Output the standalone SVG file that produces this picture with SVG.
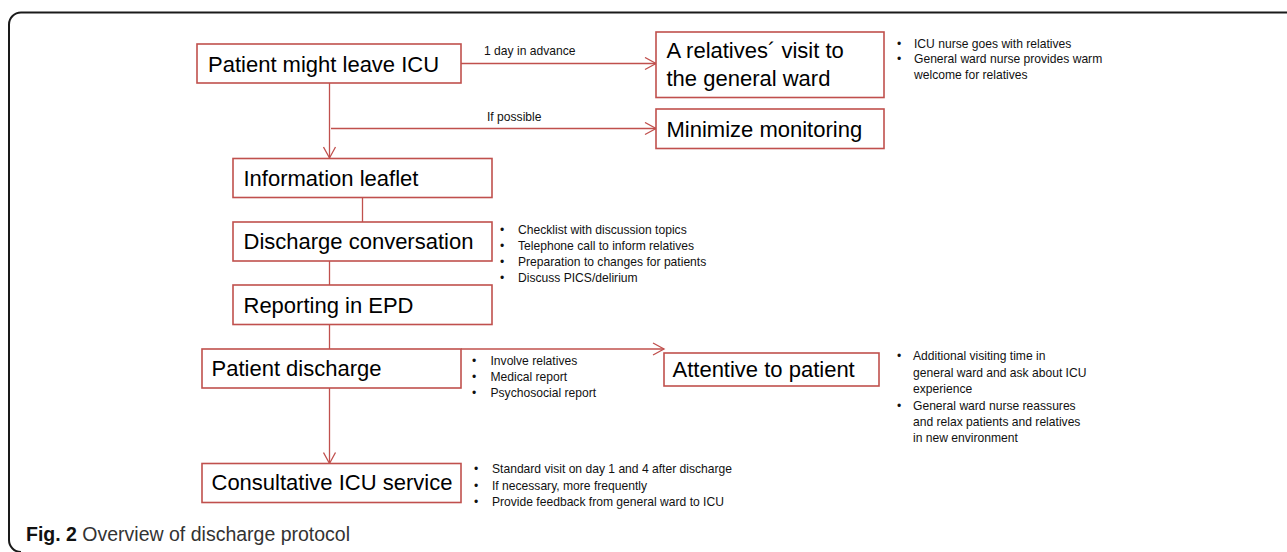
<svg xmlns="http://www.w3.org/2000/svg" width="1287" height="552" viewBox="0 0 1287 552">
<style>
.box{fill:#fff;stroke:#c0504d;stroke-width:1.6}
.lbl{font-family:"Liberation Sans",Arial,sans-serif;font-size:22px;fill:#000}
.sm{font-family:"Liberation Sans",Arial,sans-serif;font-size:12.1px;fill:#111}
.con{fill:none;stroke:#c0504d;stroke-width:1.3}
</style>
<defs>
<marker id="arr" markerUnits="userSpaceOnUse" markerWidth="14" markerHeight="14" viewBox="0 0 14 14" refX="12" refY="7" orient="auto">
<path d="M1,1 L12,7 L1,13" fill="none" stroke="#c0504d" stroke-width="1.3"/>
</marker>
</defs>
<path d="M1287,12.5 H21 A12,12 0 0 0 9,24.5 V540 A12,12 0 0 0 21,552" fill="none" stroke="#1a1a1a" stroke-width="2"/>
<g id="connectors">
<line class="con" x1="461" y1="63.5" x2="656" y2="63.5" marker-end="url(#arr)"/>
<line class="con" x1="329.5" y1="83" x2="329.5" y2="158" marker-end="url(#arr)"/>
<line class="con" x1="331" y1="128.5" x2="656" y2="128.5" marker-end="url(#arr)"/>
<line class="con" x1="362.5" y1="197" x2="362.5" y2="222"/>
<line class="con" x1="329.5" y1="261" x2="329.5" y2="285"/>
<line class="con" x1="329.5" y1="324.5" x2="329.5" y2="349"/>
<line class="con" x1="461" y1="349" x2="664" y2="349" marker-end="url(#arr)"/>
<line class="con" x1="329.5" y1="388" x2="329.5" y2="463.5" marker-end="url(#arr)"/>
<text class="sm" x="484" y="55">1 day in advance</text>
<text class="sm" x="487" y="120.5">If possible</text>
</g>
<g id="n-leave">
<rect class="box" x="197" y="44" width="264" height="39"/>
<text class="lbl" x="208" y="71.5">Patient might leave ICU</text>
</g>
<g id="n-visit">
<rect class="box" x="656" y="32" width="228" height="65.5"/>
<text class="lbl" x="666.5" y="58">A relatives´ visit to</text>
<text class="lbl" x="666.5" y="85.5">the general ward</text>
</g>
<g id="n-visit-notes">
<text class="sm" x="897" y="47.5">•</text><text class="sm" x="914" y="47.5">ICU nurse goes with relatives</text>
<text class="sm" x="897" y="63">•</text><text class="sm" x="914" y="63">General ward nurse provides warm</text>
<text class="sm" x="914" y="78.5">welcome for relatives</text>
</g>
<g id="n-monitor">
<rect class="box" x="656" y="109" width="228" height="39.5"/>
<text class="lbl" x="666.5" y="137">Minimize monitoring</text>
</g>
<g id="n-leaflet">
<rect class="box" x="233" y="158.5" width="259" height="39"/>
<text class="lbl" x="243.5" y="185.5">Information leaflet</text>
</g>
<g id="n-conv">
<rect class="box" x="233" y="222" width="259" height="39"/>
<text class="lbl" x="243.5" y="249">Discharge conversation</text>
</g>
<g id="n-conv-notes">
<text class="sm" x="500" y="234">•</text><text class="sm" x="518" y="234">Checklist with discussion topics</text>
<text class="sm" x="500" y="250">•</text><text class="sm" x="518" y="250">Telephone call to inform relatives</text>
<text class="sm" x="500" y="266">•</text><text class="sm" x="518" y="266">Preparation to changes for patients</text>
<text class="sm" x="500" y="282">•</text><text class="sm" x="518" y="282">Discuss PICS/delirium</text>
</g>
<g id="n-epd">
<rect class="box" x="233" y="285" width="259" height="39.5"/>
<text class="lbl" x="243.5" y="312.5">Reporting in EPD</text>
</g>
<g id="n-discharge">
<rect class="box" x="202" y="349" width="259" height="39"/>
<text class="lbl" x="211.5" y="376">Patient discharge</text>
</g>
<g id="n-discharge-notes">
<text class="sm" x="472" y="365">•</text><text class="sm" x="490.5" y="365">Involve relatives</text>
<text class="sm" x="472" y="381">•</text><text class="sm" x="490.5" y="381">Medical report</text>
<text class="sm" x="472" y="397">•</text><text class="sm" x="490.5" y="397">Psychosocial report</text>
</g>
<g id="n-attentive">
<rect class="box" x="664" y="353" width="215" height="33"/>
<text class="lbl" x="672.5" y="377">Attentive to patient</text>
</g>
<g id="n-attentive-notes">
<text class="sm" x="897" y="360">•</text><text class="sm" x="913" y="360">Additional visiting time in</text>
<text class="sm" x="913" y="376.5">general ward and ask about ICU</text>
<text class="sm" x="913" y="393">experience</text>
<text class="sm" x="897" y="410">•</text><text class="sm" x="913" y="410">General ward nurse reassures</text>
<text class="sm" x="913" y="426">and relax patients and relatives</text>
<text class="sm" x="913" y="442">in new environment</text>
</g>
<g id="n-consult">
<rect class="box" x="202" y="463.5" width="259" height="39"/>
<text class="lbl" x="211.5" y="490">Consultative ICU service</text>
</g>
<g id="n-consult-notes">
<text class="sm" x="474" y="473">•</text><text class="sm" x="492" y="473">Standard visit on day 1 and 4 after discharge</text>
<text class="sm" x="474" y="489.5">•</text><text class="sm" x="492" y="489.5">If necessary, more frequently</text>
<text class="sm" x="474" y="506">•</text><text class="sm" x="492" y="506">Provide feedback from general ward to ICU</text>
</g>
<text x="26" y="541" font-family="'Liberation Sans',Arial,sans-serif" font-size="19.5px" fill="#333"><tspan font-weight="bold" fill="#111">Fig. 2</tspan> Overview of discharge protocol</text>
</svg>
